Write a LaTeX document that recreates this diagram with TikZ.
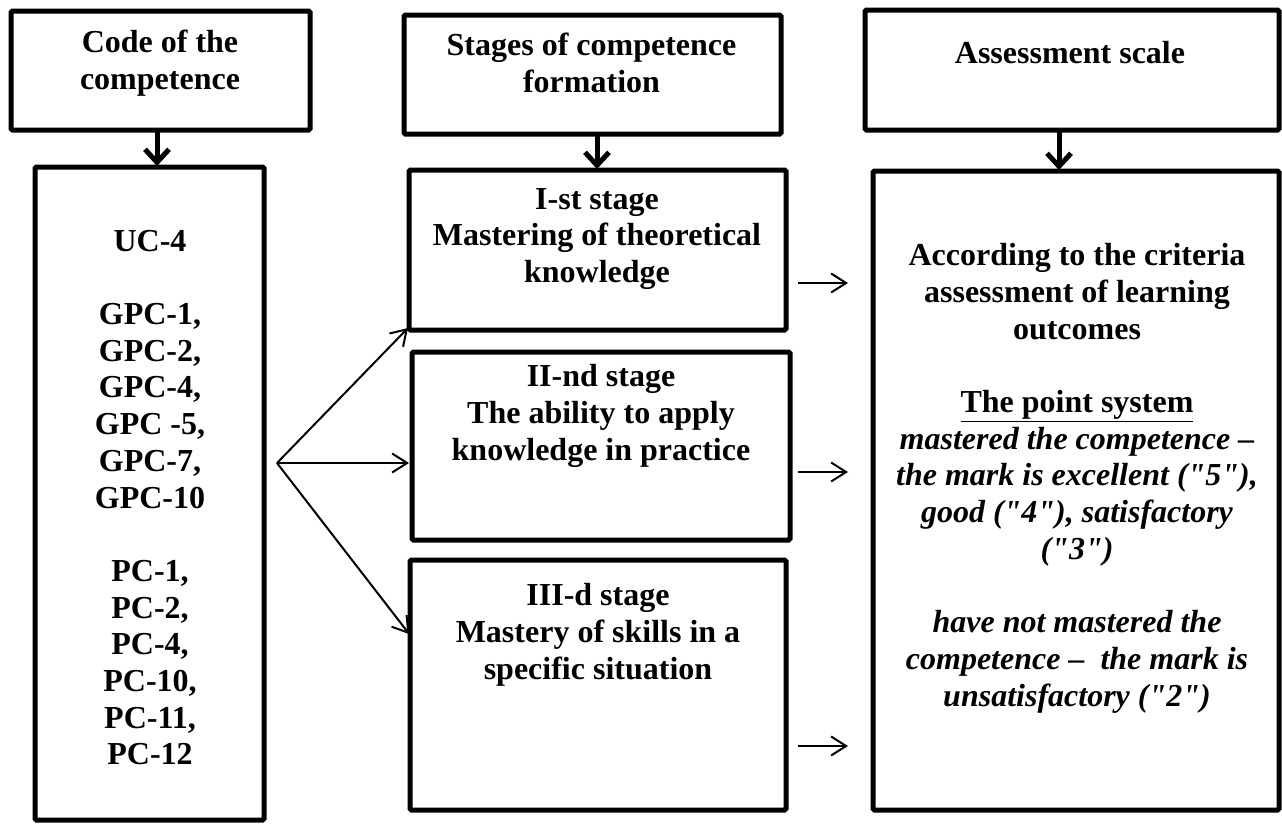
\documentclass[tikz,border=0pt]{standalone}
\usepackage{fontspec}
\setmainfont{Liberation Serif}[Ligatures=TeXOff]
\usetikzlibrary{arrows.meta,calc}
\newcommand\myit[1]{{\itshape #1}}
\begin{document}
\begin{tikzpicture}[x=1pt,y=-1pt,
  box/.style={draw, line width=5pt, rounded corners=1.5pt, inner sep=0pt, outer sep=0pt},
  txt/.style={inner sep=0pt, align=center, font=\fontsize{32}{36.7}\selectfont\bfseries},
  down/.style={line width=5pt, -{Straight Barb[length=13pt,width=24pt]}, shorten >=1pt},
  thinarrow/.style={line width=2pt, -{Straight Barb[length=15pt,width=19pt]}}]
\useasboundingbox (0,0) rectangle (1282,823);
% boxes
\node[box, minimum width=299pt, minimum height=119pt] (a) at (160.5,70.5) {};
\node[box, minimum width=229pt, minimum height=653pt] (b) at (149.5,493.5) {};
\node[box, minimum width=377pt, minimum height=119pt] (m) at (592.5,74.5) {};
\node[box, minimum width=377pt, minimum height=160pt] (s1) at (597.5,250) {};
\node[box, minimum width=378pt, minimum height=188pt] (s2) at (601,446) {};
\node[box, minimum width=376pt, minimum height=250pt] (s3) at (598,685) {};
\node[box, minimum width=414pt, minimum height=120pt] (rh) at (1072,70) {};
\node[box, minimum width=406pt, minimum height=639pt] (rb) at (1076,490.5) {};
% texts
\node[txt] (ta) at (160,63.7) {\strut Code of the\\competence\strut};
\node[txt] (tm) at (591.5,66.9) {\strut Stages of competence\\formation\strut};
\node[txt] (trh) at (1070,55.7) {\strut Assessment scale\strut};
\node[txt] (tb) at (150,500.7) {\strut UC-4\\ \strut\\ GPC-1,\\GPC-2,\\GPC-4,\\GPC -5,\\GPC-7,\\GPC-10\\ \strut\\ PC-1,\\PC-2,\\PC-4,\\PC-10,\\PC-11,\\PC-12\strut};
\node[txt] (ts1) at (597,238.4) {\strut I-st stage\\Mastering of theoretical\\knowledge\strut};
\node[txt] (ts2) at (601,416) {\strut II-nd stage\\The ability to apply\\knowledge in practice\strut};
\node[txt] (ts3) at (598,635) {\strut III-d stage\\Mastery of skills in a\\specific situation\strut};
\node[txt] (tr) at (1077,478.5) {\strut According to the criteria\\assessment of learning\\outcomes\\ \strut\\ \underline{The point system}\\\myit{mastered the competence –}\\\myit{the mark is excellent ("5"),}\\\myit{good ("4"), satisfactory}\\\myit{("3")}\\ \strut\\ \myit{have not mastered the}\\\myit{competence –\ \ the mark is}\\\myit{unsatisfactory ("2")}\strut};
% down arrows
\draw[down] ([xshift=-3.5pt]a.south) -- ([xshift=-3.5pt]a.south |- b.north);
\draw[down] ([xshift=4.5pt]m.south) -- ([xshift=4.5pt]m.south |- s1.north);
\draw[down] ([xshift=-13pt]rh.south) -- ([xshift=-13pt]rh.south |- rb.north);
% branch
\coordinate (br) at (277,463);
\draw[thinarrow] (br) -- ([xshift=-1pt,yshift=2pt]s1.south west);
\draw[thinarrow, shorten >=3pt] (br) -- (br -| s2.west);
\draw[thinarrow, shorten >=1pt] (br) -- ($(s3.north west)+(0,75)$);
% right arrows
\coordinate (r1a) at (798,283); \coordinate (r1b) at (848,283);
\coordinate (r2a) at (798,472); \coordinate (r2b) at (848,472);
\coordinate (r3a) at (798,746); \coordinate (r3b) at (848,746);
\draw[thinarrow] (r1a) -- (r1b);
\draw[thinarrow] (r2a) -- (r2b);
\draw[thinarrow] (r3a) -- (r3b);
\end{tikzpicture}
\end{document}
